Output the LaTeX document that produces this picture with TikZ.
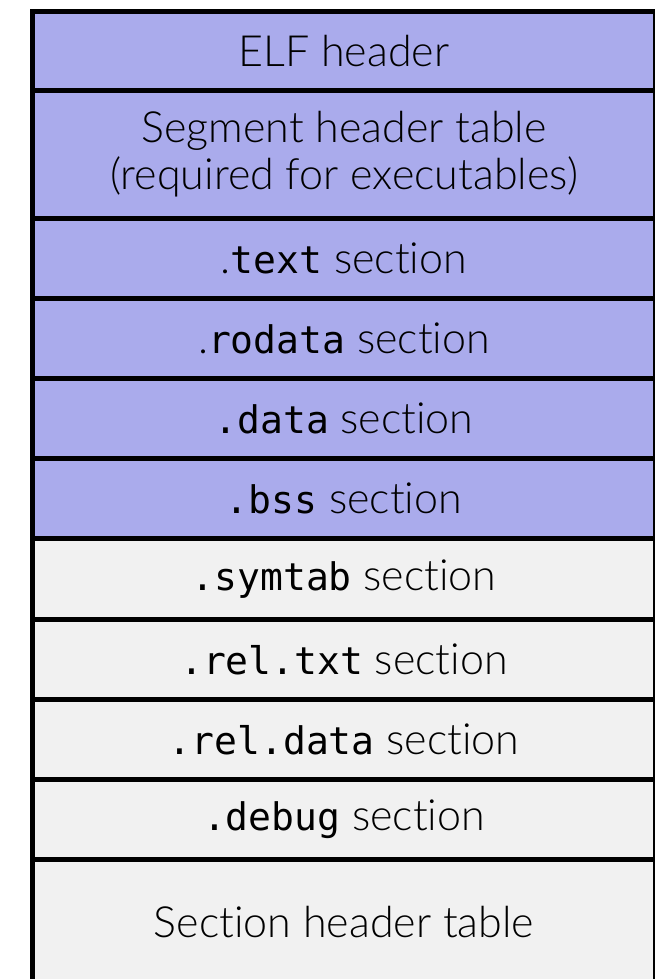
\documentclass[tikz,border=0pt]{standalone}
\usepackage{fontspec}
\setmainfont{Lato Light}[Ligatures=NoCommon]
\setmonofont{DejaVu Sans Mono}
\definecolor{segfill}{RGB}{170,171,236}
\definecolor{secfill}{RGB}{241,241,241}
\newcommand\cmono[1]{{\ttfamily\fontsize{38}{47}\selectfont #1}}
\begin{document}
\begin{tikzpicture}[x=1pt,y=-1pt,
  cell/.style={draw=black, line width=5pt, minimum width=623pt, inner sep=0pt,
    anchor=north west, align=center, font=\fontsize{43}{47}\selectfont},
  segcell/.style={cell, fill=segfill},
  seccell/.style={cell, fill=secfill}]
\useasboundingbox (0,0) rectangle (654,979);
\node[segcell, minimum height=79pt]  (elf)   at (30,9)   {ELF header};
\node[segcell, minimum height=128pt] (seg)   at (30,88)  {Segment header table\\(required for executables)};
\node[segcell, minimum height=80pt]  (text)  at (30,216) {.\cmono{text} section};
\node[segcell, minimum height=80pt]  (rod)   at (30,296) {.\cmono{rodata} section};
\node[segcell, minimum height=80pt]  (data)  at (30,376) {\cmono{.data} section};
\node[segcell, minimum height=80pt]  (bss)   at (30,456) {\cmono{.bss} section};
\node[seccell, minimum height=81pt]  (sym)   at (30,536) {\cmono{.symtab} section};
\node[seccell, minimum height=80pt]  (rtxt)  at (30,617) {\cmono{.rel.txt} section};
\node[seccell, minimum height=80pt]  (rdat)  at (30,697) {\cmono{.rel.data} section};
\node[seccell, minimum height=80pt]  (dbg)   at (30,777) {\cmono{.debug} section};
\node[seccell, minimum height=126pt] (sht)   at (30,857) {Section header table};
\end{tikzpicture}
\end{document}
